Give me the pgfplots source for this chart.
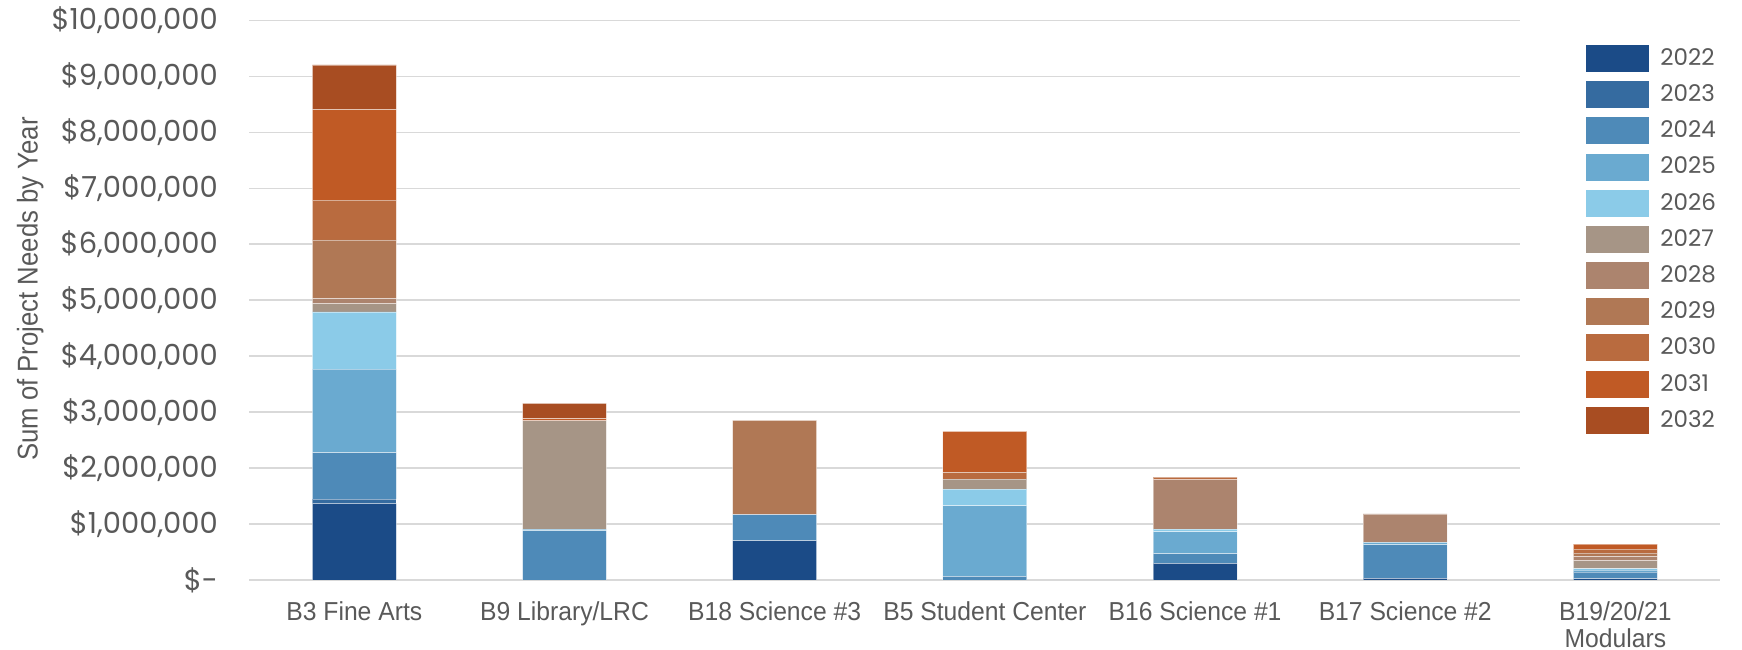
\documentclass[border=0pt]{standalone}
\usepackage{pgfplots}
\pgfplotsset{compat=1.18}
\usepackage{fontspec}
\setmainfont{Liberation Sans}
\newfontfamily\tickfont{Poppins}
\newfontfamily\condfont{Liberation Sans}[FakeStretch=0.95]
\newfontfamily\labfont{Liberation Sans}[FakeStretch=0.9]
\definecolor{txt}{HTML}{595959}
\definecolor{grid}{HTML}{D9D9D9}
\definecolor{c22}{HTML}{1B4B87}
\definecolor{c23}{HTML}{356BA0}
\definecolor{c24}{HTML}{4E8AB8}
\definecolor{c25}{HTML}{6AAAD0}
\definecolor{c26}{HTML}{8BCBE8}
\definecolor{c27}{HTML}{A69586}
\definecolor{c28}{HTML}{AC846E}
\definecolor{c29}{HTML}{B07855}
\definecolor{c30}{HTML}{B96B3F}
\definecolor{c31}{HTML}{C05A25}
\definecolor{c32}{HTML}{A84D22}
\begin{document}
\begin{tikzpicture}
\begin{axis}[
  scale only axis,
  width=736pt, height=279.85pt,
  ybar stacked, bar width=42pt,
  xmin=-0.5, xmax=6.5, ymin=0, ymax=10000000,
  axis line style={draw=none},
  tick style={draw=none},
  major tick length=0pt,
  xtick={0,1,2,3,4,5,6},
  xticklabels={B3 Fine Arts, B9 Library/LRC, B18 Science \#3, B5 Student Center, B16 Science \#1, B17 Science \#2, {B19/20/21\\Modulars}},
  xticklabel style={font=\condfont\fontsize{13}{13.5}\selectfont, text=txt, align=center, inner xsep=0pt, inner ysep=1pt, anchor=north, yshift=-9.5pt},
  ytick={0,1000000,2000000,3000000,4000000,5000000,6000000,7000000,8000000,9000000,10000000},
  yticklabels={\$-, {\$1,000,000}, {\$2,000,000}, {\$3,000,000}, {\$4,000,000}, {\$5,000,000}, {\$6,000,000}, {\$7,000,000}, {\$8,000,000}, {\$9,000,000}, {\$10,000,000}},
  yticklabel style={font=\tickfont\fontsize{14.5}{16}\selectfont, text=txt, inner sep=0pt, anchor=east, xshift=-15.5pt},
  scaled y ticks=false,
  ymajorgrids, grid style={draw=grid, line width=0.9pt},
  ylabel={Sum of Project Needs by Year},
  every axis y label/.style={at={(axis description cs:-0.1488,0.52)}, rotate=90, anchor=center, font=\labfont\fontsize{14.3}{16}\selectfont, text=txt, inner ysep=8.5pt},
  every axis plot/.append style={draw=white, draw opacity=0.45, line width=0.4pt},
  legend cell align=left,
  legend image code/.code={\path (0pt,0pt); \fill[#1, draw=none] (20pt,-6.75pt) rectangle (51.5pt,6.75pt);},
  legend style={at={(0.8635,1.0375)}, anchor=north west, draw=none, fill=white,
    inner xsep=13pt, inner ysep=22.5pt, row sep=4.6pt,
    nodes={inner sep=0pt}, font=\tickfont\fontsize{11.5}{13}\selectfont, text=txt,
    /tikz/every odd column/.append style={column sep=5.5pt}},
]
\addplot[fill=c22] coordinates {(0,1367000) (1,0) (2,704000) (3,0) (4,299000) (5,30000) (6,24000)};
\addplot[fill=c23] coordinates {(0,74000) (1,0) (2,0) (3,0) (4,0) (5,0) (6,0)};
\addplot[fill=c24] coordinates {(0,837000) (1,880000) (2,466000) (3,65000) (4,174000) (5,599000) (6,120000)};
\addplot[fill=c25] coordinates {(0,1490000) (1,30000) (2,0) (3,1262000) (4,389000) (5,42000) (6,36000)};
\addplot[fill=c26] coordinates {(0,1023000) (1,0) (2,0) (3,298000) (4,48000) (5,0) (6,24000)};
\addplot[fill=c27] coordinates {(0,147000) (1,1934000) (2,0) (3,179000) (4,0) (5,0) (6,138000)};
\addplot[fill=c28] coordinates {(0,93000) (1,0) (2,0) (3,0) (4,880000) (5,509000) (6,78000)};
\addplot[fill=c29] coordinates {(0,1047000) (1,0) (2,1684000) (3,0) (4,0) (5,0) (6,60000)};
\addplot[fill=c30] coordinates {(0,714000) (1,0) (2,0) (3,119000) (4,48000) (5,0) (6,72000)};
\addplot[fill=c31] coordinates {(0,1613000) (1,42000) (2,0) (3,732000) (4,0) (5,0) (6,90000)};
\addplot[fill=c32] coordinates {(0,801000) (1,270000) (2,0) (3,0) (4,0) (5,0) (6,0)};
\legend{2022,2023,2024,2025,2026,2027,2028,2029,2030,2031,2032}
\end{axis}
\end{tikzpicture}
\end{document}
